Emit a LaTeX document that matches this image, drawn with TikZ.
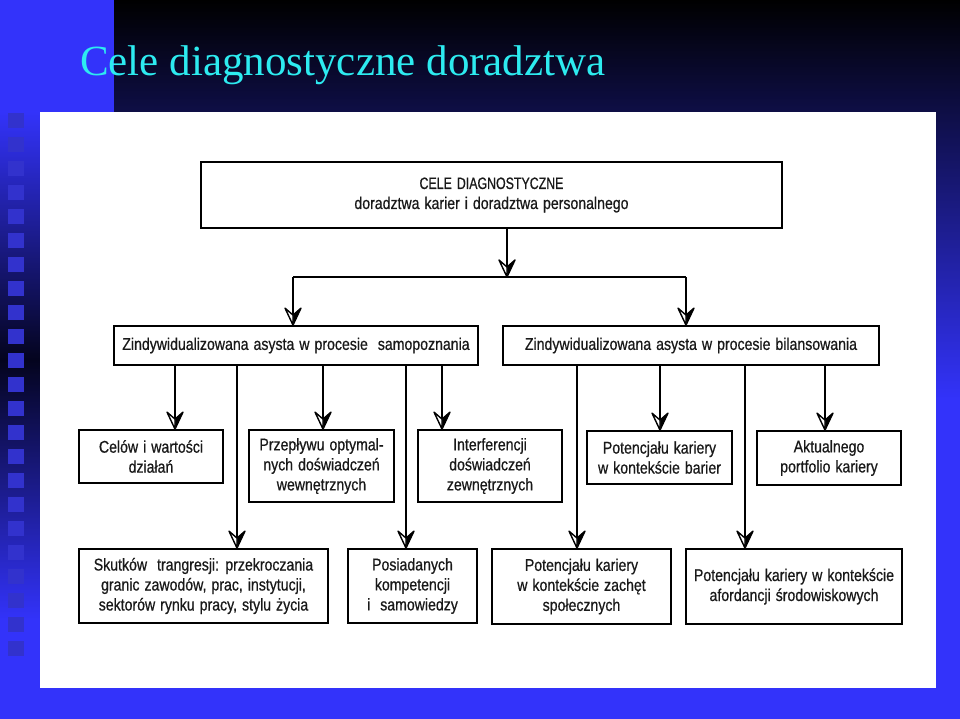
\documentclass[tikz,border=0pt]{standalone}
\usepackage{fontspec}
\newfontfamily\narrowsans[FakeStretch=0.83,FakeBold=0.6]{Liberation Sans}
\newfontfamily\capsnarrow[FakeStretch=0.75,FakeBold=0.6]{Liberation Sans}
\newfontfamily\titleserif{Liberation Serif}
\definecolor{myblue}{RGB}{51,51,250}
\definecolor{stripdark}{RGB}{4,4,30}
\definecolor{sqcol}{RGB}{50,50,205}
\definecolor{titlecyan}{RGB}{45,235,240}
\definecolor{textdark}{RGB}{25,25,25}
\newcommand{\boxfont}{\narrowsans\fontsize{17}{20}\selectfont\spaceskip=5pt plus 1pt\relax}
\pgfdeclarearrow{
  name = HB,
  setup code = {
    \pgfarrowssettipend{0pt}
    \pgfarrowssetlineend{-9pt}
    \pgfarrowssetbackend{-17pt}
    \pgfarrowshullpoint{0pt}{0pt}
    \pgfarrowsupperhullpoint{-17pt}{8pt}
  },
  drawing code = {
    \pgfsetdash{}{0pt}
    \pgfsetroundjoin
    \pgfsetlinewidth{1.4pt}
    \pgfpathmoveto{\pgfpointorigin}
    \pgfpathlineto{\pgfpoint{-17pt}{8pt}}
    \pgfpathlineto{\pgfpoint{-10pt}{0pt}}
    \pgfpathclose
    \pgfsetfillcolor{black}
    \pgfusepathqfillstroke
    \pgfpathmoveto{\pgfpointorigin}
    \pgfpathlineto{\pgfpoint{-17pt}{-8pt}}
    \pgfpathlineto{\pgfpoint{-10pt}{0pt}}
    \pgfpathclose
    \pgfsetfillcolor{white}
    \pgfusepathqfillstroke
  }
}
\tikzset{
  box/.style={draw=black, line width=1.8pt, fill=white, align=center,
    inner sep=0pt, font=\boxfont, text=textdark},
  arr/.style={draw=black, line width=1.6pt, -HB},
  busline/.style={draw=black, line width=1.6pt, line cap=square}
}
\begin{document}
\begin{tikzpicture}[x=1pt,y=-1pt]
\useasboundingbox (0,0) rectangle (960,719);
% background
\shade[top color=black, bottom color=myblue] (0,0) rectangle (960,400);
\fill[myblue] (0,400) rectangle (960,719);
\fill[myblue] (0,0) rectangle (114,112);
\shade[top color=myblue, bottom color=stripdark] (0,112) rectangle (40,360);
\shade[top color=stripdark, bottom color=myblue] (0,360) rectangle (40,620);
\fill[myblue] (0,620) rectangle (40,719);
\foreach \k in {0,...,22}{
  \fill[sqcol] (8,{113+24*\k}) rectangle +(16,15);
}
% white panel
\fill[white] (40,112) rectangle (936,688);
% title
\node[anchor=base west, inner sep=0pt, text=titlecyan,
  font=\titleserif\fontsize{43}{50}\selectfont] (title) at (80,76) {Cele diagnostyczne doradztwa};
% boxes
\node[box, minimum width=581pt, minimum height=66pt] (top) at (491.5,195)
  {{\capsnarrow\fontsize{16.5}{20}\selectfont CELE DIAGNOSTYCZNE}\\doradztwa karier i doradztwa personalnego};
\node[box, minimum width=364pt, minimum height=39pt] (sam) at (296,345.5)
  {Zindywidualizowana asysta w procesie \ samopoznania};
\node[box, minimum width=376pt, minimum height=39pt] (bil) at (691,345.5)
  {Zindywidualizowana asysta w procesie bilansowania};
\node[box, minimum width=144pt, minimum height=53pt] (celow) at (151,456.5)
  {Celów i wartości\\działań};
\node[box, minimum width=145pt, minimum height=72pt] (przep) at (321.5,466)
  {Przepływu optymal-\\nych doświadczeń\\wewnętrznych};
\node[box, minimum width=144pt, minimum height=72pt] (inter) at (490,466)
  {Interferencji\\doświadczeń\\zewnętrznych};
\node[box, minimum width=145pt, minimum height=53pt] (barier) at (659.5,457.5)
  {Potencjału kariery\\w kontekście barier};
\node[box, minimum width=144pt, minimum height=54pt] (aktual) at (829,458)
  {Aktualnego\\portfolio kariery};
\node[box, minimum width=249pt, minimum height=74pt] (skutk) at (203.5,586)
  {Skutków \ trangresji: przekroczania\\granic zawodów, prac, instytucji,\\sektorów rynku pracy, stylu życia};
\node[box, minimum width=129pt, minimum height=74pt] (posiad) at (412.5,586)
  {Posiadanych\\kompetencji\\i \ samowiedzy};
\node[box, minimum width=179pt, minimum height=75pt] (zachet) at (581.5,586.5)
  {Potencjału kariery\\w kontekście zachęt\\społecznych};
\node[box, minimum width=216pt, minimum height=75pt] (aford) at (794,586.5)
  {Potencjału kariery w kontekście\\afordancji środowiskowych};
% connector coordinates
\coordinate (busM) at (507,277);
\coordinate (busL) at (293,277);
\coordinate (busR) at (686,277);
\coordinate (xa) at (175,0);
\coordinate (xb) at (237,0);
\coordinate (xc) at (323,0);
\coordinate (xd) at (406,0);
\coordinate (xe) at (442,0);
\coordinate (xf) at (577,0);
\coordinate (xg) at (660,0);
\coordinate (xh) at (745,0);
\coordinate (xi) at (825,0);
% connectors
\draw[arr] (top.south -| busM) -- (busM);
\draw[busline] (busL) -- (busR);
\draw[arr] (busL) -- (sam.north -| busL);
\draw[arr] (busR) -- (bil.north -| busR);
\draw[arr] (sam.south -| xa) -- (celow.north -| xa);
\draw[arr] (sam.south -| xb) -- (skutk.north -| xb);
\draw[arr] (sam.south -| xc) -- (przep.north -| xc);
\draw[arr] (sam.south -| xd) -- (posiad.north -| xd);
\draw[arr] (sam.south -| xe) -- (inter.north -| xe);
\draw[arr] (bil.south -| xf) -- (zachet.north -| xf);
\draw[arr] (bil.south -| xg) -- (barier.north -| xg);
\draw[arr] (bil.south -| xh) -- (aford.north -| xh);
\draw[arr] (bil.south -| xi) -- (aktual.north -| xi);
\end{tikzpicture}
\end{document}
